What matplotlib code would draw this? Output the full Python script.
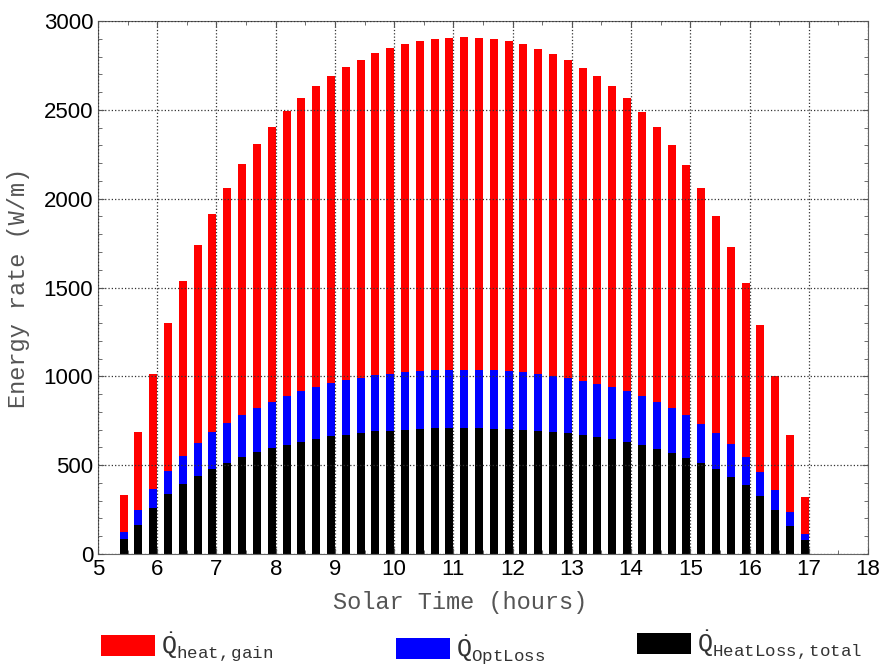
import matplotlib
matplotlib.use("Agg")
import matplotlib.pyplot as plt
from matplotlib.ticker import MultipleLocator

# solar time (hours) - bars end at these times
solar_time = [5.5, 5.75, 6.0, 6.25, 6.5, 6.75, 7.0, 7.25, 7.5, 7.75,
              8.0, 8.25, 8.5, 8.75, 9.0, 9.25, 9.5, 9.75, 10.0, 10.25,
              10.5, 10.75, 11.0, 11.25, 11.5, 11.75, 12.0, 12.25, 12.5, 12.75,
              13.0, 13.25, 13.5, 13.75, 14.0, 14.25, 14.5, 14.75, 15.0, 15.25,
              15.5, 15.75, 16.0, 16.25, 16.5, 16.75, 17.0]

# total heat loss (W/m)
heat_loss = [83, 163, 259, 338, 392, 439, 480, 512, 546, 572,
             597, 616, 633, 648, 663, 672, 681, 691, 695, 700,
             704, 708, 710, 710, 710, 706, 704, 700, 695, 689,
             681, 670, 661, 646, 633, 614, 591, 569, 542, 512,
             479, 434, 387, 327, 250, 160, 77]

# optical loss (W/m)
opt_loss = [39, 85, 105, 127, 160, 184, 205, 226, 237, 252,
            261, 276, 285, 292, 298, 310, 312, 315, 319, 325,
            326, 328, 328, 328, 328, 330, 326, 325, 320, 315,
            312, 306, 298, 292, 283, 274, 265, 255, 239, 222,
            200, 185, 159, 133, 109, 78, 37]

# heat gain (W/m)
heat_gain = [210, 437, 651, 834, 983, 1115, 1228, 1323, 1411, 1483,
             1547, 1601, 1650, 1694, 1729, 1759, 1789, 1812, 1832, 1847,
             1857, 1863, 1868, 1872, 1868, 1864, 1859, 1845, 1829, 1812,
             1787, 1761, 1729, 1694, 1650, 1599, 1547, 1478, 1408, 1324,
             1224, 1110, 980, 828, 645, 430, 207]

labels = [r'$\dot{\mathrm{Q}}_{\mathrm{heat,gain}}$',
          r'$\dot{\mathrm{Q}}_{\mathrm{OptLoss}}$',
          r'$\dot{\mathrm{Q}}_{\mathrm{HeatLoss,total}}$']

plt.rcParams['mathtext.fontset'] = 'custom'
plt.rcParams['mathtext.rm'] = 'Liberation Mono'
plt.rcParams['mathtext.it'] = 'Liberation Mono'

fig = plt.figure(figsize=(8.91, 6.67), dpi=100)
ax = fig.add_axes([98/891, 1 - 554/667, 770/891, 533/667])

w = -0.135
b_loss = ax.bar(solar_time, heat_loss, width=w, align='edge', color='black')
opt_bottom = heat_loss
b_opt = ax.bar(solar_time, opt_loss, width=w, align='edge', color='blue',
               bottom=opt_bottom)
gain_bottom = [a + b for a, b in zip(heat_loss, opt_loss)]
b_gain = ax.bar(solar_time, heat_gain, width=w, align='edge', color='red',
                bottom=gain_bottom)

ax.set_xlim(5, 18)
ax.set_ylim(0, 3000)
ax.xaxis.set_major_locator(MultipleLocator(1))
ax.xaxis.set_minor_locator(MultipleLocator(0.5))
ax.yaxis.set_major_locator(MultipleLocator(500))
ax.yaxis.set_minor_locator(MultipleLocator(100))
ax.tick_params(which='both', direction='in', top=True, right=True,
               color='#555555')
ax.tick_params(which='major', length=4, labelsize=16)
ax.tick_params(which='minor', length=3)
for t in ax.get_xticklabels() + ax.get_yticklabels():
    t.set_family('Liberation Sans')
for s in ax.spines.values():
    s.set_color('#666666')
ax.grid(True, which='major', linestyle=':', color='#333333', linewidth=0.9)
ax.set_axisbelow(False)

ax.set_xlabel('Solar Time (hours)', family='Liberation Mono', fontsize=17,
              color='#555555')
ax.set_ylabel('Energy rate (W/m)', family='Liberation Mono', fontsize=17,
              color='#555555')
ax.xaxis.set_label_coords(0.47, -0.07)
ax.yaxis.set_label_coords(-0.088, 0.5)

# legend entries laid out under the axes
entries = [(b_gain, labels[0], 101, 647),
           (b_opt, labels[1], 396, 650),
           (b_loss, labels[2], 637, 645)]
for h, lab, px, py in entries:
    leg = fig.legend([h], [lab], loc='center left',
                     bbox_to_anchor=(px/891, 1 - py/667),
                     frameon=False, borderpad=0, borderaxespad=0,
                     handlelength=2.15, handleheight=0.9, handletextpad=0.25,
                     fontsize=18)
    for t in leg.get_texts():
        t.set_color('#333333')

fig.savefig('out.png', dpi=100)
